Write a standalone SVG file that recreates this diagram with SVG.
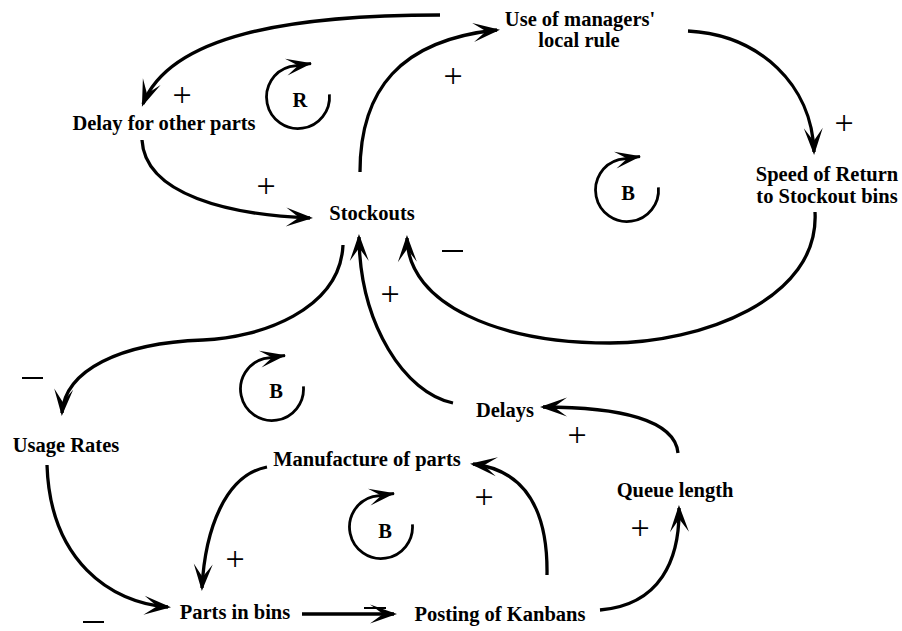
<svg xmlns="http://www.w3.org/2000/svg" width="902" height="631" viewBox="0 0 902 631">
<style>
.lbl{font-family:"Liberation Serif","Times New Roman",serif;font-weight:bold;font-size:20.5px;fill:#000;text-anchor:middle}
.sign{font-family:"Liberation Serif","Times New Roman",serif;font-size:34px;fill:#000;text-anchor:middle}
.edge{fill:none;stroke:#000;stroke-width:3.3;marker-end:url(#ah)}
.loop{fill:none;stroke:#000;stroke-width:2.8;marker-end:url(#lh)}
.bar{stroke:#000;stroke-width:2}
</style>
<defs>
<marker id="ah" viewBox="-28 -11 31 22" markerWidth="31" markerHeight="22" refX="-3" refY="0" markerUnits="userSpaceOnUse" orient="auto">
<path d="M0,0 L-27,-9.5 L-14,0 L-27,9.5 Z" fill="#000"/>
</marker>
<marker id="lh" viewBox="-27 -10 29 20" markerWidth="29" markerHeight="20" refX="-1" refY="0" markerUnits="userSpaceOnUse" orient="auto">
<path d="M0,0 L-26,-8.5 L-14,0 L-26,8.5 Z" fill="#000"/>
</marker>
<path id="loopArc" d="M31.4,-2.7 A31.5,31.5 0 1 1 -8.2,-30.4 L13,-33.5"/>
</defs>

<g id="connectors">
<path class="edge" d="M440,15 C290,15 170,35 143,104"/>
<path class="edge" d="M142,140 C145,195 230,215 310,218"/>
<path class="edge" d="M360,172 C360,90 400,40 497,30"/>
<path class="edge" d="M688,31 C760,35 812,85 814,152"/>
<path class="edge" d="M815,212 C820,300 700,343 610,343 C500,343 408,305 407,238"/>
<path class="edge" d="M343,245 C340,310 260,338 203,340 C120,343 65,370 62,413"/>
<path class="edge" d="M453,403 C405,393 360,325 359,237"/>
<path class="edge" d="M678,453 C675,420 620,407 543,407"/>
<path class="edge" d="M547,575 C548,510 525,470 473,464"/>
<path class="edge" d="M267,467 C225,475 205,530 202,588"/>
<path class="edge" d="M47,465 C50,560 110,603 168,607"/>
<path class="edge" d="M302,614 L394,614"/>
<path class="edge" d="M600,610 C660,605 680,560 679,508"/>
</g>

<g id="node-use-of-managers">
<text class="lbl" x="580" y="26">Use of managers'</text>
<text class="lbl" x="579" y="47">local rule</text>
</g>
<g id="node-delay-for-other-parts"><text class="lbl" x="164" y="130">Delay for other parts</text></g>
<g id="node-stockouts"><text class="lbl" x="372" y="220">Stockouts</text></g>
<g id="node-speed-of-return">
<text class="lbl" x="827" y="181">Speed of Return</text>
<text class="lbl" x="827" y="203">to Stockout bins</text>
</g>
<g id="node-usage-rates"><text class="lbl" x="66" y="452">Usage Rates</text></g>
<g id="node-manufacture"><text class="lbl" x="367" y="466">Manufacture of parts</text></g>
<g id="node-delays"><text class="lbl" x="505" y="417">Delays</text></g>
<g id="node-queue-length"><text class="lbl" x="675" y="497">Queue length</text></g>
<g id="node-parts-in-bins"><text class="lbl" x="235" y="619">Parts in bins</text></g>
<g id="node-posting"><text class="lbl" x="500" y="621">Posting of Kanbans</text></g>

<g id="loop-R">
<use href="#loopArc" class="loop" transform="translate(298,97)"/>
<text class="lbl" x="300" y="107">R</text>
</g>
<g id="loop-B1">
<use href="#loopArc" class="loop" transform="translate(627,190)"/>
<text class="lbl" x="628" y="200">B</text>
</g>
<g id="loop-B2">
<use href="#loopArc" class="loop" transform="translate(272,389)"/>
<text class="lbl" x="276" y="398">B</text>
</g>
<g id="loop-B3">
<use href="#loopArc" class="loop" transform="translate(381,527)"/>
<text class="lbl" x="385" y="538">B</text>
</g>

<g id="polarity">
<text class="sign" x="182" y="106">+</text>
<text class="sign" x="266" y="197">+</text>
<text class="sign" x="453" y="87">+</text>
<text class="sign" x="844" y="134">+</text>
<text class="sign" x="390" y="305">+</text>
<text class="sign" x="577" y="446">+</text>
<text class="sign" x="484" y="508">+</text>
<text class="sign" x="640" y="539">+</text>
<text class="sign" x="235" y="570">+</text>
<line class="bar" x1="442" y1="251" x2="463" y2="251"/>
<line class="bar" x1="22" y1="378" x2="43" y2="378"/>
<line class="bar" x1="83" y1="622" x2="104" y2="622"/>
<line class="bar" x1="364" y1="608" x2="386" y2="608"/>
</g>
</svg>
